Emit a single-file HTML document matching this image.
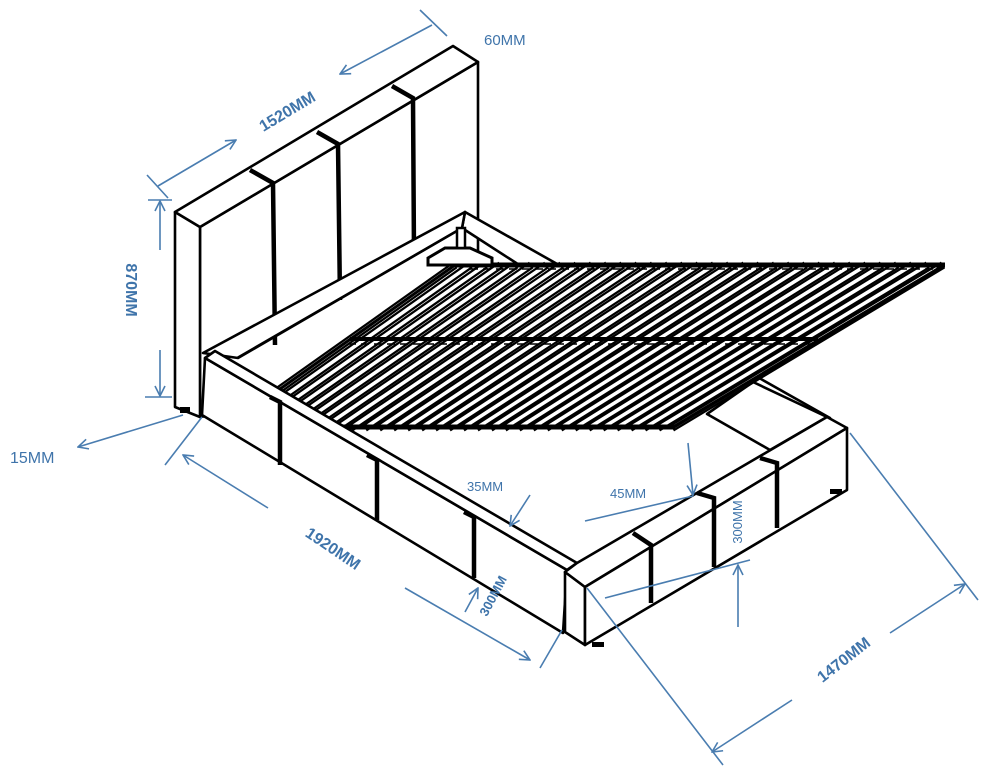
<!DOCTYPE html>
<html><head><meta charset="utf-8"><style>
html,body{margin:0;padding:0;background:#fff;}
svg{display:block;}
.k{fill:#fff;stroke:#000;stroke-width:2.6;stroke-linejoin:round;}
.g{stroke:#000;stroke-width:4.5;fill:none;}
.b{stroke:#4a7db0;stroke-width:1.6;fill:none;}
text{font-family:"Liberation Sans",sans-serif;fill:#3f74aa;}
</style></head><body>
<svg id="s" width="987" height="773" viewBox="0 0 987 773" xmlns="http://www.w3.org/2000/svg">
<defs>
<marker id="a" viewBox="0 0 12 12" refX="11" refY="6" markerWidth="12" markerHeight="12" markerUnits="userSpaceOnUse" orient="auto">
<path d="M1,1 L11,6 L1,11" fill="none" stroke="#4a7db0" stroke-width="1.6"/>
</marker>
</defs>

<!-- headboard -->
<polygon class="k" points="200,227 478,62 478,380 200,417"/>
<polygon class="k" points="175,212 200,227 200,417 175,407"/>
<polygon class="k" points="175,212 453,46 478,62 200,227"/>
<polyline class="g" points="250,170 273,183 275,345"/>
<polyline class="g" points="317,132 338,144 340,300"/>
<polyline class="g" points="392,86 413,98 414,255"/>

<!-- right rail near head & bar -->
<polygon class="k" points="465,212 830,418 790,440 462,228"/>
<polygon class="k" points="203,353 465,212 462,228 238,358"/>
<line x1="462" y1="228" x2="237" y2="358" stroke="#000" stroke-width="2.4"/>
<!-- underside right rail -->
<polygon class="k" points="753,382 827,417 770,450 707,414"/>

<!-- slats platform -->
<g id="slats"></g>
<line x1="455" y1="265" x2="945" y2="265" stroke="#000" stroke-width="5"/>
<line x1="943" y1="266" x2="672" y2="428" stroke="#000" stroke-width="3.5"/>
<line x1="455" y1="265" x2="225" y2="428" stroke="#000" stroke-width="3"/>
<line x1="330" y1="427" x2="675" y2="427" stroke="#000" stroke-width="5"/>
<line x1="350" y1="339" x2="818" y2="339" stroke="#000" stroke-width="4"/>
<line x1="348" y1="344" x2="812" y2="344" stroke="#000" stroke-width="1.5" stroke-dasharray="8,5"/>
<line x1="470" y1="269" x2="936" y2="269" stroke="#000" stroke-width="1.5" stroke-dasharray="8,5"/>
<!-- bracket -->
<polygon points="428,258 445,248 470,248 492,258 492,265 428,265" fill="#fff" stroke="#000" stroke-width="3"/>
<rect x="457" y="228" width="8" height="20" fill="#fff" stroke="#000" stroke-width="2.5"/>

<!-- left rail -->
<polygon class="k" points="205,358 567,570 563,633 202,415"/>
<polygon class="k" points="205,358 215,351 577,563 567,570"/>
<polyline class="g" points="270,397 280,402 280,465"/>
<polyline class="g" points="367,455 377,460 377,520"/>
<polyline class="g" points="464,512 474,517 474,578"/>

<!-- foot rail -->
<polygon class="k" points="565,572 585,587 585,645 565,632"/>
<polygon class="k" points="565,572 577,563 827,417 847,428 585,587"/>
<polygon class="k" points="585,587 847,428 847,490 585,645"/>
<polyline class="g" points="633,533 651,545 651,603"/>
<polyline class="g" points="697,493 714,498 714,567"/>
<polyline class="g" points="760,458 777,463 777,528"/>
<rect x="592" y="642" width="12" height="5" fill="#000"/>
<rect x="830" y="489" width="12" height="5" fill="#000"/>
<rect x="180" y="407" width="10" height="6" fill="#000"/>

<!-- dimensions -->
<line class="b" x1="147" y1="175" x2="168" y2="198"/>
<line class="b" x1="420" y1="10" x2="447" y2="36"/>
<line class="b" x1="158" y1="186" x2="236" y2="140" marker-end="url(#a)"/>
<line class="b" x1="432" y1="25" x2="340" y2="74" marker-end="url(#a)"/>
<text x="0" y="0" font-size="16" font-weight="bold" transform="translate(290,116) rotate(-31)" text-anchor="middle">1520MM</text>
<text x="484" y="45" font-size="15">60MM</text>

<line class="b" x1="148" y1="200" x2="172" y2="200"/>
<line class="b" x1="145" y1="397" x2="172" y2="397"/>
<line class="b" x1="160" y1="250" x2="160" y2="201" marker-end="url(#a)"/>
<line class="b" x1="160" y1="350" x2="160" y2="396" marker-end="url(#a)"/>
<text font-size="16" font-weight="bold" transform="translate(126,290) rotate(90)" text-anchor="middle">870MM</text>

<line class="b" x1="183" y1="415" x2="78" y2="447" marker-end="url(#a)"/>
<text x="10" y="463" font-size="16">15MM</text>
<line class="b" x1="165" y1="465" x2="202" y2="417"/>

<line class="b" x1="268" y1="508" x2="183" y2="455" marker-end="url(#a)"/>
<line class="b" x1="405" y1="588" x2="530" y2="660" marker-end="url(#a)"/>
<line class="b" x1="540" y1="668" x2="562" y2="630"/>
<text font-size="16" font-weight="bold" transform="translate(330,553) rotate(34)" text-anchor="middle">1920MM</text>

<text x="467" y="491" font-size="13">35MM</text>
<line class="b" x1="530" y1="495" x2="510" y2="526" marker-end="url(#a)"/>
<line class="b" x1="465" y1="612" x2="478" y2="588" marker-end="url(#a)"/>
<text font-size="13" font-weight="bold" transform="translate(497,598) rotate(-62)" text-anchor="middle">300MM</text>

<text x="610" y="498" font-size="13">45MM</text>
<line class="b" x1="585" y1="521" x2="693" y2="496"/>
<line class="b" x1="688" y1="443" x2="693" y2="495" marker-end="url(#a)"/>
<text font-size="13" transform="translate(742,522) rotate(-90)" text-anchor="middle">300MM</text>
<line class="b" x1="605" y1="598" x2="750" y2="560"/>
<line class="b" x1="738" y1="627" x2="738" y2="565" marker-end="url(#a)"/>

<line class="b" x1="587" y1="588" x2="723" y2="765"/>
<line class="b" x1="850" y1="433" x2="978" y2="600"/>
<line class="b" x1="792" y1="700" x2="712" y2="752" marker-end="url(#a)"/>
<line class="b" x1="890" y1="633" x2="965" y2="584" marker-end="url(#a)"/>
<text font-size="16" font-weight="bold" transform="translate(847,664) rotate(-38)" text-anchor="middle">1470MM</text>
</svg>
<script>
(function(){
var g=document.getElementById('slats'),ns='http://www.w3.org/2000/svg';
var TL=[455,265],TR=[943,265],BL=[225,428],BR=[672,428];
var bg=document.createElementNS(ns,'polygon');
bg.setAttribute('points','455,265 943,265 672,428 225,428');bg.setAttribute('fill','#fff');g.appendChild(bg);
var n=32;
for(var i=0;i<=n;i++){var t=i/n;
var x1=BL[0]+(BR[0]-BL[0])*t,y1=BL[1],x2=TL[0]+(TR[0]-TL[0])*t,y2=TL[1];
[['#000',8],['#fff',3.5]].forEach(function(s){var l=document.createElementNS(ns,'line');
l.setAttribute('x1',x1);l.setAttribute('y1',y1);l.setAttribute('x2',x2);l.setAttribute('y2',y2);
l.setAttribute('stroke',s[0]);l.setAttribute('stroke-width',s[1]);g.appendChild(l);});}
})();
</script>
</body></html>
